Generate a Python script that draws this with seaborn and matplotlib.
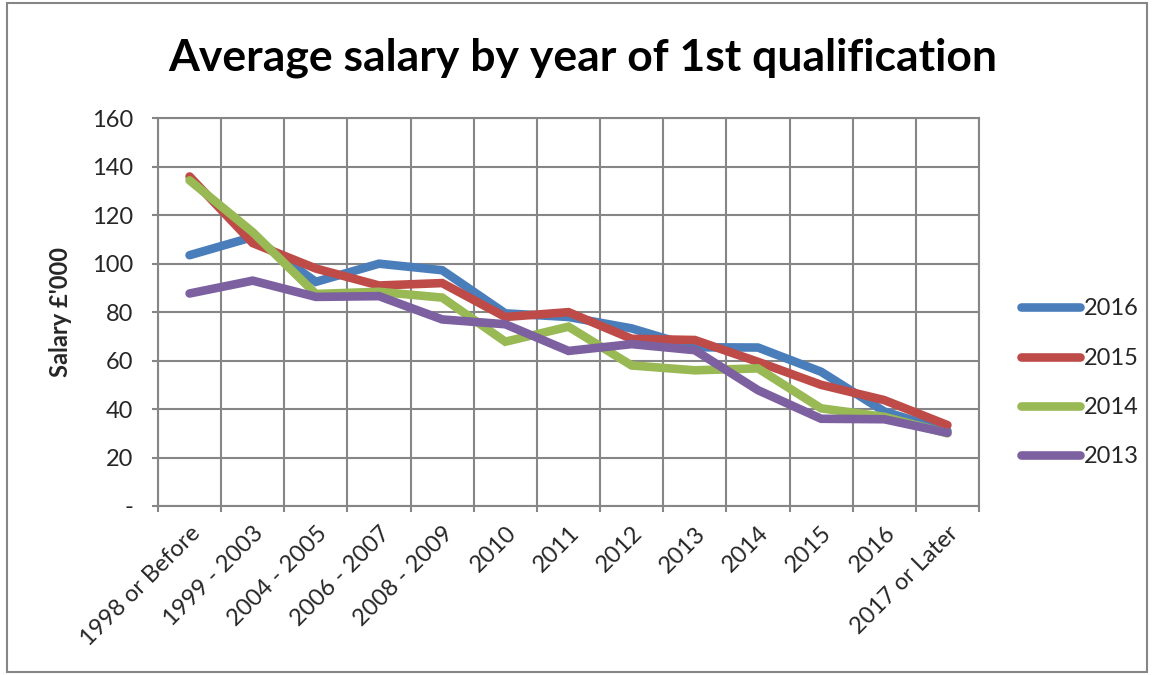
import numpy as np
import pandas as pd
import seaborn as sns
import matplotlib.pyplot as plt
from matplotlib.patches import Rectangle
from matplotlib.lines import Line2D

# chart values
categories = ["1998 or Before", "1999 - 2003", "2004 - 2005", "2006 - 2007", "2008 - 2009",
              "2010", "2011", "2012", "2013", "2014", "2015", "2016", "2017 or Later"]
salary_2016 = [103.5, 111, 92.5, 100, 97.3, 79.5, 78, 73.3, 65.5, 65.4, 55.4, 39, 31]
salary_2015 = [136, 108.5, 98, 91, 92, 78, 80, 69, 68.5, 59.5, 50, 43.7, 33.4]
salary_2014 = [134.4, 113, 87.5, 88.4, 86, 67.8, 74, 58, 56, 56.8, 40.3, 36.8, 30]
salary_2013 = [87.7, 93, 86.3, 86.6, 77, 75, 64, 66.8, 64.3, 47.8, 36, 35.8, 30.2]
series_names = ["2016", "2015", "2014", "2013"]
colors = ["#4A7EBB", "#BE4B48", "#98B954", "#7D60A0"]

df = pd.DataFrame({
    "category": categories * 4,
    "salary": salary_2016 + salary_2015 + salary_2014 + salary_2013,
    "series": sum([[s] * len(categories) for s in series_names], []),
})

sns.set_theme(style="white")
plt.rcParams["font.family"] = ["Lato", "DejaVu Sans"]

fig = plt.figure(figsize=(11.52, 6.75), dpi=100)
ax = fig.add_axes([158 / 1152, 1 - 506 / 675, (979 - 158) / 1152, (506 - 118.3) / 675])

sns.lineplot(data=df, x="category", y="salary", hue="series", hue_order=series_names,
             palette=colors, linewidth=6.2, sort=False, ax=ax, legend=False,
             solid_capstyle="round", solid_joinstyle="miter")

ax.set_xlim(-0.5, len(categories) - 0.5)
ax.set_ylim(0, 160)
ax.set_yticks(range(0, 161, 20))
ax.set_yticklabels(["-"] + [str(v) for v in range(20, 161, 20)], fontsize=17)
ax.set_xticks(range(len(categories)))
ax.set_xticklabels(categories, rotation=45, ha="right", rotation_mode="anchor", fontsize=17)
ax.set_xticks(np.arange(-0.5, len(categories), 1), minor=True)
ax.tick_params(axis="x", which="major", length=0, pad=12)
ax.tick_params(axis="x", which="minor", length=4, color="#868686", width=1.5, direction="out", bottom=True)
ax.tick_params(axis="y", length=4, color="#868686", width=1.5, direction="out", left=True, pad=14)
ax.grid(True, axis="y", color="#868686", linewidth=1.5)
ax.grid(True, axis="x", which="minor", color="#868686", linewidth=1.5)
for sp in ax.spines.values():
    sp.set_color("#868686")
    sp.set_linewidth(1.5)

ax.set_xlabel("")
ax.set_ylabel("Salary £'000", fontsize=17, fontweight="bold", labelpad=14)
fig.text(0.506, 0.914, "Average salary by year of 1st qualification",
         ha="center", va="center", fontsize=32, fontweight="bold", color="black")

handles = [Line2D([0], [0], color=c, lw=6.2, solid_capstyle="round") for c in colors]
fig.legend(handles, series_names, loc="center left", bbox_to_anchor=(1000 / 1152, 1 - 383 / 675),
           frameon=False, fontsize=17, handlelength=2.5, handletextpad=0.15, labelspacing=1.2)

fig.patches.append(Rectangle((7 / 1152, 3 / 675), 1140 / 1152, 669 / 675, transform=fig.transFigure,
                             fill=False, edgecolor="#868686", linewidth=1.5))

fig.savefig("out.png", dpi=100)
